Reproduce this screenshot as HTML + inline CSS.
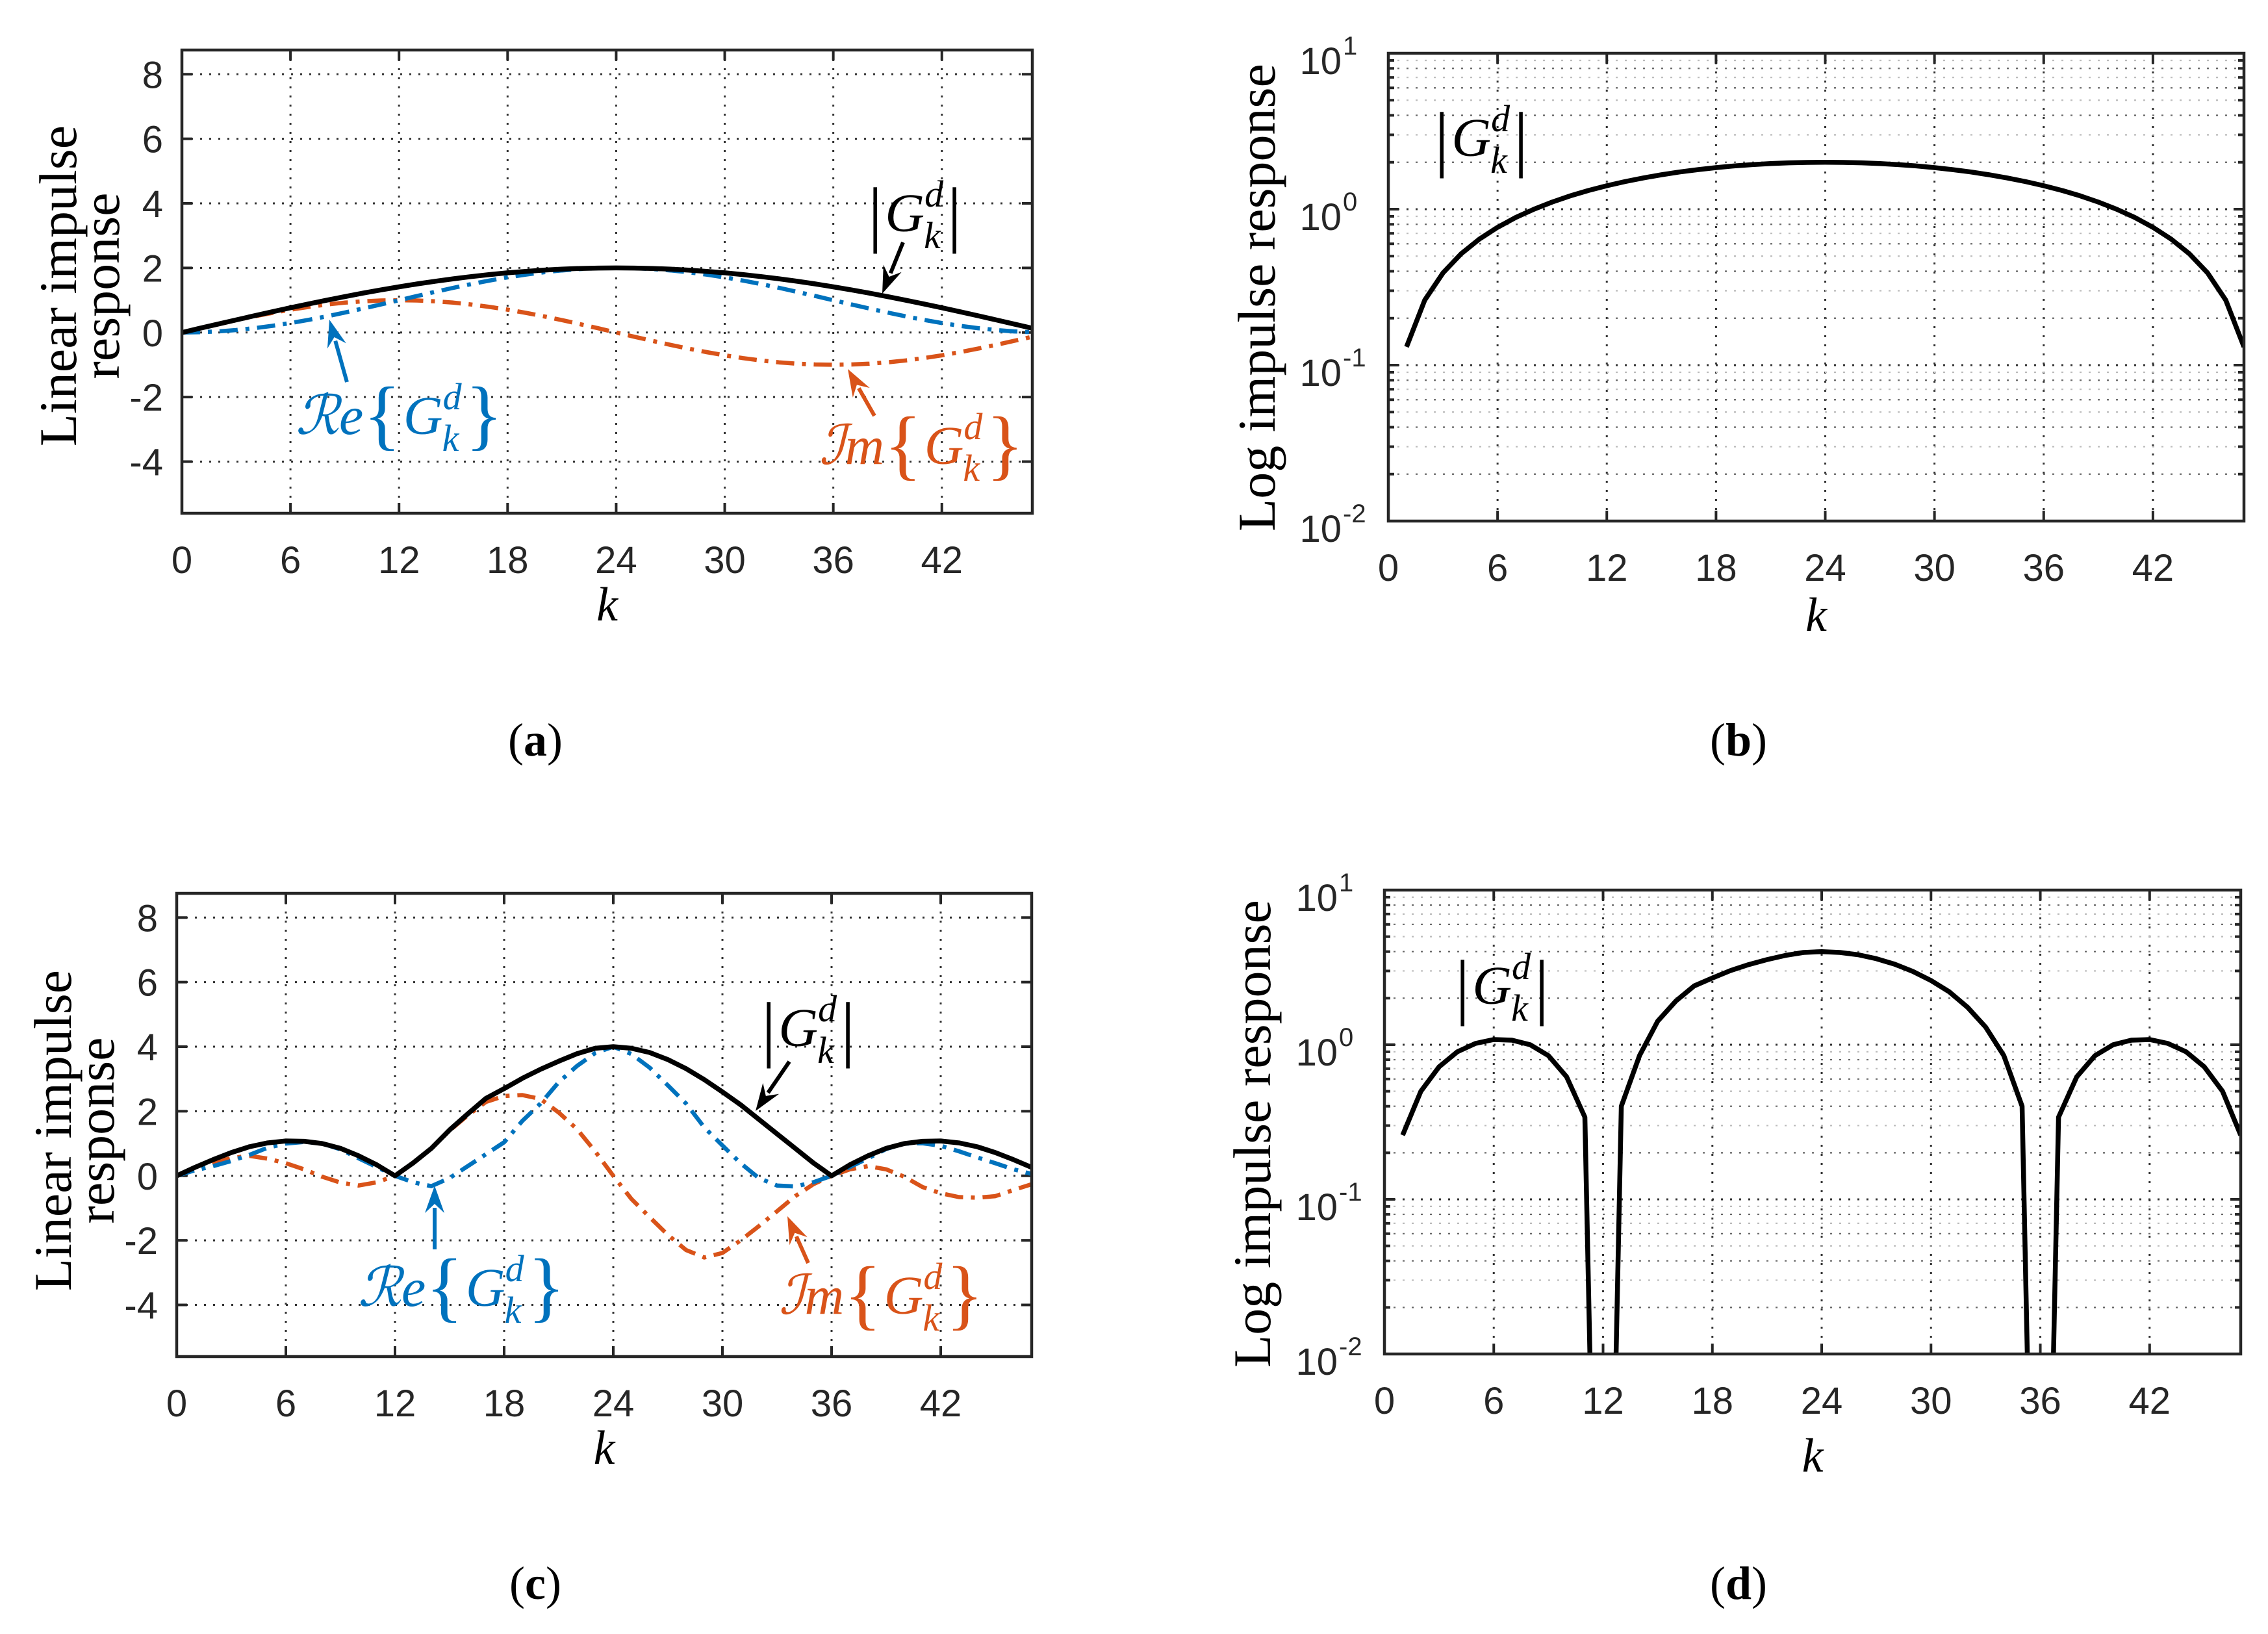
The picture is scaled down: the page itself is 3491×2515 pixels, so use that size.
<!DOCTYPE html>
<html><head><meta charset="utf-8"><style>
html,body{margin:0;padding:0;background:#fff;width:3491px;height:2515px;overflow:hidden;position:relative;}
svg{display:block;position:absolute;left:0;top:0;}
</style>
<script>
const kCategories = [0,1,2,3,4,5,6,7,8,9,10,11,12,13,14,15,16,17,18,19,20,21,22,23,24,25,26,27,28,29,30,31,32,33,34,35,36,37,38,39,40,41,42,43,44,45,46,47];
const xTicks = [0,6,12,18,24,30,36,42];
const linTicks = [-4,-2,0,2,4,6,8];
const logTickExps = [-2,-1,0,1];
const aMag = [0,0.131,0.261,0.390,0.518,0.643,0.765,0.885,1.0,1.111,1.218,1.319,1.414,1.504,1.587,1.663,1.732,1.794,1.848,1.894,1.932,1.962,1.983,1.996,2.0,1.996,1.983,1.962,1.932,1.894,1.848,1.794,1.732,1.663,1.587,1.504,1.414,1.319,1.218,1.111,1.0,0.885,0.765,0.643,0.518,0.390,0.261,0.131];
const aRe = [0,0.009,0.034,0.076,0.134,0.207,0.293,0.391,0.5,0.617,0.741,0.869,1.0,1.131,1.259,1.383,1.5,1.609,1.707,1.793,1.866,1.924,1.966,1.991,2.0,1.991,1.966,1.924,1.866,1.793,1.707,1.609,1.5,1.383,1.259,1.131,1.0,0.869,0.741,0.617,0.5,0.391,0.293,0.207,0.134,0.076,0.034,0.009];
const aIm = [0,0.131,0.259,0.383,0.5,0.609,0.707,0.793,0.866,0.924,0.966,0.991,1.0,0.991,0.966,0.924,0.866,0.793,0.707,0.609,0.5,0.383,0.259,0.131,0,-0.131,-0.259,-0.383,-0.5,-0.609,-0.707,-0.793,-0.866,-0.924,-0.966,-0.991,-1.0,-0.991,-0.966,-0.924,-0.866,-0.793,-0.707,-0.609,-0.5,-0.383,-0.259,-0.131];
const cMag = [0,0.26,0.5,0.72,0.9,1.02,1.08,1.07,1.0,0.85,0.62,0.34,0,0.4,0.85,1.42,1.92,2.4,2.7,3.02,3.3,3.55,3.78,3.95,4.0,3.95,3.82,3.6,3.32,2.98,2.6,2.2,1.75,1.3,0.85,0.4,0,0.34,0.62,0.85,1.0,1.07,1.08,1.02,0.9,0.72,0.5,0.26];
const cRe = [0,0.17,0.3,0.46,0.65,0.87,1.0,1.05,1.0,0.82,0.54,0.27,0,-0.2,-0.32,-0.07,0.3,0.67,1.04,1.7,2.24,2.9,3.4,3.8,4.0,3.77,3.35,2.8,2.24,1.5,0.94,0.39,-0.07,-0.3,-0.33,-0.2,0,0.27,0.54,0.83,1.0,1.01,0.93,0.76,0.57,0.39,0.2,0.06];
const cIm = [0,0.2,0.4,0.55,0.62,0.53,0.39,0.2,-0.03,-0.21,-0.3,-0.2,0,0.39,0.85,1.4,1.87,2.29,2.47,2.5,2.38,1.96,1.45,0.76,0,-0.72,-1.28,-1.83,-2.3,-2.53,-2.39,-2.0,-1.56,-1.1,-0.63,-0.26,0,0.2,0.3,0.2,-0.03,-0.35,-0.54,-0.66,-0.68,-0.63,-0.44,-0.26];

const NS = 'http://www.w3.org/2000/svg';
const SANS = '"Liberation Sans", Arial, sans-serif';
const SERIF = '"Liberation Serif", "DejaVu Serif", serif';
const BLUE = '#0072BD', RED = '#D95319';
const DASHDOT = '28 12 6 12';
let svg;

function mk(tag, attrs, parent) {
  const e = document.createElementNS(NS, tag);
  for (const k in attrs) e.setAttribute(k, attrs[k]);
  (parent || svg).appendChild(e);
  return e;
}

function panel(cfg) {
  const g = mk('g', {});
  
  
  const {x0, x1, yT, yB} = cfg;
  const xs = k => x0 + (k - 0) / 47 * (x1 - x0);
  let ys;
  if (cfg.log) ys = v => yB - (Math.log10(Math.max(v, 1e-6)) + 2) / 3 * (yB - yT);
  else ys = v => yB - (v - (-5.6)) / (8.75 - (-5.6)) * (yB - yT);
  const clipId = 'clip-' + cfg.name;
  const cp = mk('clipPath', {id: clipId}, g);
  mk('rect', {x: x0, y: yT, width: x1 - x0, height: yB - yT}, cp);

  const grid = mk('g', {stroke: '#333', 'stroke-width': 3, 'stroke-dasharray': '3 11', fill: 'none'}, g);
  
  
  xTicks.forEach(t => { if (t > 0) mk('line', {x1: xs(t), x2: xs(t), y1: yT, y2: yB}, grid); });
  const tickG = mk('g', {stroke: '#262626', 'stroke-width': 4}, g);
  xTicks.forEach(t => {
    mk('line', {x1: xs(t), x2: xs(t), y1: yB, y2: yB - 16}, tickG);
    mk('line', {x1: xs(t), x2: xs(t), y1: yT, y2: yT + 16}, tickG);
    const tl = mk('text', {x: xs(t), y: yB + 92, 'font-family': SANS, 'font-size': 58, 'text-anchor': 'middle', fill: '#262626'}, g);
    tl.textContent = t;
    
    
  });
  if (cfg.log) {
    logTickExps.forEach(e => {
      const y = ys(Math.pow(10, e));
      if (e > -2 && e < 1) mk('line', {x1: x0, x2: x1, y1: y, y2: y}, grid);
      mk('line', {x1: x0, x2: x0 + 16, y1: y, y2: y}, tickG);
      mk('line', {x1: x1, x2: x1 - 16, y1: y, y2: y}, tickG);
      const tl = mk('text', {x: x0 - 72, y: y + 32, 'font-family': SANS, 'font-size': 58, 'text-anchor': 'end', fill: '#262626'}, g);
      tl.textContent = '10';
      
      
      const sp = mk('text', {x: x0 - 70, y: y + 2, 'font-family': SANS, 'font-size': 40, fill: '#262626'}, g);
      sp.textContent = e < 0 ? '-' + (-e) : String(e);
      
      
      if (e < 1) {
        for (let m = 2; m <= 9; m++) {
          const ym = ys(m * Math.pow(10, e));
          mk('line', {x1: x0, x2: x1, y1: ym, y2: ym, 'stroke-width': 2.2, stroke: (m % 2 === 0 ? '#666' : '#bbb')}, grid);
          mk('line', {x1: x0, x2: x0 + 9, y1: ym, y2: ym}, tickG);
          mk('line', {x1: x1, x2: x1 - 9, y1: ym, y2: ym}, tickG);
        }
      }
    });
  } else {
    linTicks.forEach(t => {
      const y = ys(t);
      mk('line', {x1: x0, x2: x1, y1: y, y2: y}, grid);
      mk('line', {x1: x0, x2: x0 + 16, y1: y, y2: y}, tickG);
      mk('line', {x1: x1, x2: x1 - 16, y1: y, y2: y}, tickG);
      const tl = mk('text', {x: x0 - 29, y: y + 21, 'font-family': SANS, 'font-size': 58, 'text-anchor': 'end', fill: '#262626'}, g);
      tl.textContent = t;
      
      
    });
  }
  const lines = mk('g', {'clip-path': 'url(#' + clipId + ')', fill: 'none', 'stroke-linejoin': 'round'}, g);
  cfg.series.forEach(s => {
    const pts = [];
    kCategories.forEach((k, i) => { if (k >= s.kStart) pts.push(xs(k).toFixed(1) + ',' + ys(s.data[i]).toFixed(1)); });
    const attrs = {points: pts.join(' '), stroke: s.color, 'stroke-width': s.dash ? 6.5 : 7.5};
    if (s.dash) attrs['stroke-dasharray'] = DASHDOT;
    const pl = mk('polyline', attrs, lines);
    
    
  });
  const box = mk('rect', {x: x0, y: yT, width: x1 - x0, height: yB - yT, fill: 'none', stroke: '#262626', 'stroke-width': 4.5}, g);
  
  
  const kl = mk('text', {x: (x0 + x1) / 2, y: yB + cfg.kOff, 'font-family': SERIF, 'font-style': 'italic', 'font-size': 74, 'text-anchor': 'middle', fill: '#000'}, g);
  kl.textContent = 'k';
  
  
  cfg.ytitle.forEach(t => {
    const yt = mk('text', {x: 0, y: 0, transform: `translate(${t.x},${t.y}) rotate(-90)`, 'font-family': SERIF, 'font-size': 82, 'text-anchor': 'middle', fill: '#000'}, g);
    yt.textContent = t.text;
    
    
  });
  const cap = mk('text', {x: cfg.capX, y: cfg.capY, 'font-family': SERIF, 'font-size': 72, 'text-anchor': 'middle', fill: '#000'}, g);
  cap.innerHTML = '(<tspan font-weight="bold">' + cfg.cap + '</tspan>)';
  
  
  return g;
}

function gLabel(prefix, x, y, color, name) {
  const t = mk('text', {x: x, y: y, 'font-family': SERIF, 'font-size': 84, fill: color});
  const open = prefix ? '{' : '|', close = prefix ? '}' : '|';
  let html = '';
  if (prefix) html += '<tspan font-style="italic" font-size="84">' + prefix + '</tspan>';
  html += '<tspan font-size="' + (prefix ? 120 : 112) + '" dy="10">' + open + '</tspan>';
  html += '<tspan font-style="italic" dx="4" dy="-10">G</tspan>';
  html += '<tspan font-style="italic" font-size="58" dy="-38">d</tspan>';
  html += '<tspan font-style="italic" font-size="58" dx="-30" dy="64">k</tspan>';
  html += '<tspan font-size="' + (prefix ? 120 : 112) + '" dx="10" dy="-16">' + close + '</tspan>';
  t.innerHTML = html;
  
  
}

function arrow(xa, ya, xb, yb, color, name) {
  const g = mk('g', {});
  
  
  const ang = Math.atan2(yb - ya, xb - xa);
  const L = 42, W = 15;
  const bx = xb - L * Math.cos(ang), by = yb - L * Math.sin(ang);
  mk('line', {x1: xa, y1: ya, x2: bx + 8 * Math.cos(ang), y2: by + 8 * Math.sin(ang), stroke: color, 'stroke-width': 6}, g);
  const px = -Math.sin(ang) * W, py = Math.cos(ang) * W;
  mk('polygon', {points: `${xb},${yb} ${bx + px},${by + py} ${bx + 14 * Math.cos(ang)},${by + 14 * Math.sin(ang)} ${bx - px},${by - py}`, fill: color}, g);
}

document.addEventListener('DOMContentLoaded', function () {
  svg = document.getElementById('fig');
  panel({name: 'panel-a', x0: 280, x1: 1589, yT: 77, yB: 790, log: false, kOff: 165,
    capX: 824, capY: 1163, cap: 'a',
    ytitle: [{text: 'Linear impulse', x: 117, y: 440}, {text: 'response', x: 183, y: 440}],
    series: [
      {name: 'imag-line', data: aIm, color: RED, dash: true, kStart: 0},
      {name: 'real-line', data: aRe, color: BLUE, dash: true, kStart: 0},
      {name: 'magnitude-line', data: aMag, color: '#000', dash: false, kStart: 0}]});
  panel({name: 'panel-b', x0: 2137, x1: 3454, yT: 82, yB: 802, log: true, kOff: 169,
    capX: 2676, capY: 1163, cap: 'b',
    ytitle: [{text: 'Log impulse response', x: 1962, y: 458}],
    series: [{name: 'magnitude-line', data: aMag, color: '#000', dash: false, kStart: 1}]});
  panel({name: 'panel-c', x0: 272, x1: 1588, yT: 1375, yB: 2088, log: false, kOff: 165,
    capX: 824, capY: 2461, cap: 'c',
    ytitle: [{text: 'Linear impulse', x: 109, y: 1740}, {text: 'response', x: 175, y: 1740}],
    series: [
      {name: 'imag-line', data: cIm, color: RED, dash: true, kStart: 0},
      {name: 'real-line', data: cRe, color: BLUE, dash: true, kStart: 0},
      {name: 'magnitude-line', data: cMag, color: '#000', dash: false, kStart: 0}]});
  panel({name: 'panel-d', x0: 2131, x1: 3449, yT: 1370, yB: 2084, log: true, kOff: 181,
    capX: 2676, capY: 2461, cap: 'd',
    ytitle: [{text: 'Log impulse response', x: 1955, y: 1745}],
    series: [{name: 'magnitude-line', data: cMag, color: '#000', dash: false, kStart: 1}]});

  gLabel('', 1336, 356, '#000', 'magnitude-label');
  arrow(1390, 373, 1358, 452, '#000', 'magnitude-arrow');
  gLabel('ℛe', 455, 668, BLUE, 'real-label');
  arrow(534, 588, 507, 492, BLUE, 'real-arrow');
  gLabel('ℐm', 1261, 714, RED, 'imag-label');
  arrow(1346, 640, 1305, 568, RED, 'imag-arrow');

  gLabel('', 2208, 240, '#000', 'magnitude-label');
  gLabel('', 2240, 1545, '#000', 'magnitude-label');

  gLabel('', 1172, 1610, '#000', 'magnitude-label');
  arrow(1215, 1634, 1163, 1710, '#000', 'magnitude-arrow');
  gLabel('ℛe', 551, 2010, BLUE, 'real-label');
  arrow(669, 1923, 669, 1825, BLUE, 'real-arrow');
  gLabel('ℐm', 1199, 2022, RED, 'imag-label');
  arrow(1244, 1944, 1212, 1872, RED, 'imag-arrow');
});
</script>
</head><body>
<svg id="fig" xmlns="http://www.w3.org/2000/svg" width="3491" height="2515" viewBox="0 0 3491 2515">
<rect x="0" y="0" width="3491" height="2515" fill="#fff"/>
</svg>
</body></html>
